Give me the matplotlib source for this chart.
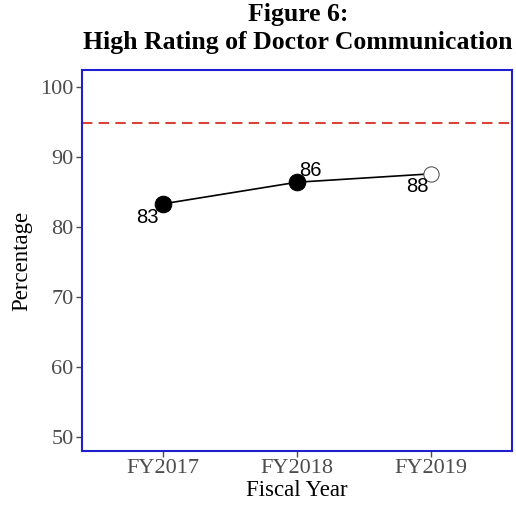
import matplotlib.pyplot as plt

years = ["FY2017", "FY2018", "FY2019"]
values = [83.3, 86.4, 87.6]
labels = ["83", "86", "88"]
filled = [True, True, False]
target = 94.8

plt.rcParams["font.family"] = ["Liberation Serif", "DejaVu Serif"]

fig = plt.figure(figsize=(5.16, 5.09), dpi=100)
ax = fig.add_axes([0.159, 0.114, 0.833, 0.748])

x = list(range(len(years)))
ax.plot(x, values, color="black", lw=1.2, zorder=2)
for xi, v, f in zip(x, values, filled):
    ax.plot(xi, v, "o", ms=12 if f else 11, mfc="black" if f else "white",
            mec="black" if f else "#444444", mew=0.7, zorder=3)

offsets = [(-11, -9.5), (10, 8.6), (-10, -9.4)]
for xi, v, lab, (dx, dy) in zip(x, values, labels, offsets):
    ax.annotate(lab, (xi, v), xytext=(dx, dy), textcoords="offset points",
                ha="center", va="center", fontsize=14.5, family="Liberation Sans")

ax.axhline(target, color="#d9443a", ls=(0, (5, 3)), lw=1.5)

ax.set_xlim(-0.6, 2.6)
ax.set_ylim(48, 102.4)
ax.set_xticks(x)
ax.set_xticklabels(years)
ax.set_yticks(range(50, 101, 10))
ax.tick_params(labelsize=16, labelcolor="#4d4d4d", color="#4d4d4d",
               length=4, width=1, pad=2)
for s in ax.spines.values():
    s.set_color("#1f1fd0")
    s.set_linewidth(1.5)

ax.set_xlabel("Fiscal Year", fontsize=16.5, labelpad=1)
ax.set_ylabel("Percentage", fontsize=16.5, labelpad=6)
fig.suptitle("Figure 6:\nHigh Rating of Doctor Communication",
             fontsize=18.5, fontweight="bold", x=0.578, y=0.994, va="top",
             linespacing=1.25)

fig.savefig("out.png", dpi=100)
